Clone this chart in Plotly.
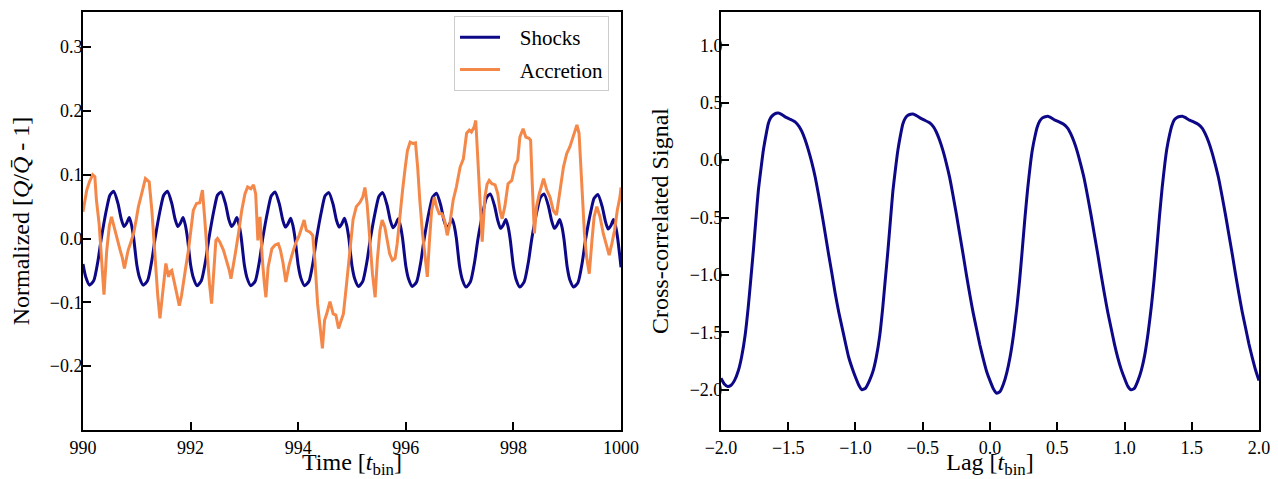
import plotly.graph_objects as go

# ---------------- data ----------------
shock_t = [
    990.00, 990.05, 990.12, 990.20, 990.28, 990.34, 990.44, 990.50, 990.57, 990.65, 990.71, 990.76, 990.81, 990.86, 990.90, 990.94,
    991.00, 991.05, 991.12, 991.20, 991.28, 991.34, 991.44, 991.50, 991.57, 991.65, 991.71, 991.76, 991.81, 991.86, 991.90, 991.94,
    992.00, 992.05, 992.12, 992.20, 992.28, 992.34, 992.44, 992.50, 992.57, 992.65, 992.71, 992.76, 992.81, 992.86, 992.90, 992.94,
    993.00, 993.05, 993.12, 993.20, 993.28, 993.34, 993.44, 993.50, 993.57, 993.65, 993.71, 993.76, 993.81, 993.86, 993.90, 993.94,
    994.00, 994.05, 994.12, 994.20, 994.28, 994.34, 994.44, 994.50, 994.57, 994.65, 994.71, 994.76, 994.81, 994.86, 994.90, 994.94,
    995.00, 995.05, 995.12, 995.20, 995.28, 995.34, 995.44, 995.50, 995.57, 995.65, 995.71, 995.76, 995.81, 995.86, 995.90, 995.94,
    996.00, 996.05, 996.12, 996.20, 996.28, 996.34, 996.44, 996.50, 996.57, 996.65, 996.71, 996.76, 996.81, 996.86, 996.90, 996.94,
    997.00, 997.05, 997.12, 997.20, 997.28, 997.34, 997.44, 997.50, 997.57, 997.65, 997.71, 997.76, 997.81, 997.86, 997.90, 997.94,
    998.00, 998.05, 998.12, 998.20, 998.28, 998.34, 998.44, 998.50, 998.57, 998.65, 998.71, 998.76, 998.81, 998.86, 998.90, 998.94,
    999.00, 999.05, 999.12, 999.20, 999.28, 999.34, 999.44, 999.50, 999.57, 999.65, 999.71, 999.76, 999.81, 999.86, 999.90, 999.94,
    1000.00,
]
shock_v = [
    -0.040, -0.060, -0.073, -0.066, -0.034, 0.000, 0.047, 0.068, 0.074, 0.055, 0.031, 0.019, 0.024, 0.033, 0.022, 0.002,
    -0.041, -0.061, -0.073, -0.066, -0.034, 0.000, 0.047, 0.068, 0.074, 0.055, 0.031, 0.019, 0.024, 0.033, 0.022, 0.002,
    -0.041, -0.061, -0.074, -0.066, -0.034, 0.000, 0.047, 0.068, 0.073, 0.054, 0.030, 0.019, 0.024, 0.033, 0.022, 0.002,
    -0.042, -0.062, -0.074, -0.067, -0.035, 0.000, 0.046, 0.067, 0.073, 0.054, 0.030, 0.018, 0.023, 0.032, 0.021, 0.001,
    -0.042, -0.062, -0.074, -0.067, -0.035, 0.000, 0.046, 0.067, 0.072, 0.053, 0.029, 0.018, 0.023, 0.032, 0.021, 0.001,
    -0.043, -0.063, -0.075, -0.067, -0.035, -0.001, 0.045, 0.066, 0.072, 0.053, 0.029, 0.017, 0.022, 0.031, 0.020, 0.000,
    -0.043, -0.063, -0.075, -0.068, -0.036, -0.001, 0.045, 0.065, 0.071, 0.052, 0.028, 0.017, 0.022, 0.031, 0.020, 0.000,
    -0.044, -0.064, -0.076, -0.068, -0.036, -0.001, 0.044, 0.064, 0.070, 0.051, 0.028, 0.016, 0.021, 0.030, 0.019, -0.001,
    -0.044, -0.064, -0.076, -0.068, -0.036, -0.001, 0.044, 0.064, 0.070, 0.051, 0.028, 0.016, 0.021, 0.030, 0.019, -0.001,
    -0.045, -0.065, -0.076, -0.069, -0.037, -0.002, 0.043, 0.063, 0.069, 0.050, 0.027, 0.015, 0.020, 0.030, 0.019, -0.001,
    -0.045,
]

accr_t = [
    990.00, 990.07, 990.12, 990.18, 990.22, 990.25, 990.30, 990.34, 990.39, 990.44, 990.49, 990.53, 990.59, 990.64, 990.69, 990.73,
    990.77, 990.81, 990.84, 990.90, 990.94, 990.99, 991.03, 991.09, 991.13, 991.16, 991.20, 991.23, 991.28, 991.34, 991.39, 991.43,
    991.46, 991.49, 991.54, 991.59, 991.62, 991.65, 991.68, 991.71, 991.75, 991.79, 991.83, 991.86, 991.91, 991.96, 992.01, 992.05,
    992.11, 992.17, 992.20, 992.22, 992.26, 992.30, 992.35, 992.39, 992.43, 992.47, 992.50, 992.54, 992.61, 992.67, 992.72, 992.75,
    992.79, 992.82, 992.89, 992.95, 993.01, 993.06, 993.12, 993.17, 993.21, 993.25, 993.29, 993.33, 993.37, 993.40, 993.44, 993.51,
    993.57, 993.63, 993.67, 993.72, 993.77, 993.83, 993.89, 993.95, 994.01, 994.06, 994.11, 994.15, 994.22, 994.27, 994.31, 994.36,
    994.41, 994.45, 994.49, 994.53, 994.59, 994.65, 994.70, 994.75, 994.80, 994.84, 994.90, 994.96, 995.00, 995.02, 995.08, 995.15,
    995.20, 995.24, 995.28, 995.33, 995.38, 995.43, 995.47, 995.52, 995.56, 995.61, 995.66, 995.70, 995.75, 995.80, 995.84, 995.89,
    995.94, 995.99, 996.03, 996.08, 996.13, 996.18, 996.22, 996.26, 996.31, 996.36, 996.40, 996.44, 996.48, 996.53, 996.57, 996.62,
    996.67, 996.72, 996.77, 996.82, 996.88, 996.94, 997.01, 997.07, 997.13, 997.18, 997.22, 997.27, 997.30, 997.33, 997.38, 997.42,
    997.47, 997.51, 997.55, 997.60, 997.66, 997.71, 997.75, 997.79, 997.84, 997.90, 997.97, 998.03, 998.08, 998.12, 998.18, 998.23,
    998.29, 998.32, 998.35, 998.39, 998.43, 998.48, 998.56, 998.62, 998.68, 998.74, 998.80, 998.87, 998.93, 998.99, 999.05, 999.10,
    999.15, 999.18, 999.22, 999.27, 999.32, 999.36, 999.41, 999.46, 999.50, 999.55, 999.61, 999.67, 999.74, 999.78, 999.83, 999.88,
    999.93, 999.98, 1000.00,
]
accr_v = [
    0.042, 0.076, 0.089, 0.100, 0.097, 0.060, 0.023, -0.034, -0.088, -0.020, 0.020, 0.034, 0.013, 0.000, -0.018, -0.030,
    -0.047, -0.030, -0.018, -0.003, 0.008, 0.030, 0.050, 0.070, 0.085, 0.094, 0.091, 0.089, 0.044, -0.034, -0.090, -0.125,
    -0.100, -0.081, -0.039, -0.060, -0.052, -0.050, -0.062, -0.070, -0.090, -0.105, -0.090, -0.070, -0.045, -0.018, 0.015, 0.044,
    0.055, 0.056, 0.068, 0.076, 0.034, -0.020, -0.070, -0.102, -0.050, -0.003, 0.000, -0.005, -0.018, -0.034, -0.050, -0.063,
    -0.045, -0.029, 0.008, 0.044, 0.070, 0.081, 0.078, 0.084, 0.070, -0.003, 0.034, -0.029, -0.070, -0.092, -0.045, -0.016,
    -0.010, -0.008, -0.018, -0.039, -0.068, -0.042, -0.024, -0.008, 0.003, 0.018, 0.029, 0.013, 0.010, 0.005, -0.034, -0.102,
    -0.139, -0.172, -0.128, -0.118, -0.099, -0.118, -0.120, -0.141, -0.128, -0.118, -0.070, -0.020, 0.008, 0.030, 0.050, 0.057,
    0.065, 0.080, 0.055, -0.003, -0.055, -0.092, -0.034, 0.013, 0.029, 0.018, -0.003, -0.024, -0.034, -0.031, -0.008, 0.039,
    0.076, 0.112, 0.138, 0.151, 0.149, 0.150, 0.112, 0.060, 0.008, -0.029, -0.060, -0.003, 0.044, 0.065, 0.050, 0.039,
    0.039, 0.029, 0.005, 0.024, 0.060, 0.081, 0.112, 0.125, 0.165, 0.170, 0.167, 0.175, 0.185, 0.138, 0.060, -0.005,
    0.065, 0.085, 0.091, 0.086, 0.084, 0.070, 0.044, 0.031, 0.050, 0.086, 0.091, 0.115, 0.123, 0.159, 0.172, 0.159,
    0.157, 0.154, 0.086, 0.008, 0.050, 0.070, 0.094, 0.076, 0.065, 0.044, 0.037, 0.081, 0.112, 0.133, 0.144, 0.157,
    0.170, 0.178, 0.165, 0.091, 0.008, -0.029, -0.055, -0.003, 0.034, 0.050, 0.034, 0.008, -0.013, -0.026, -0.008, 0.013,
    0.044, 0.065, 0.080,
]

lag = [
    -2.000, -1.975, -1.950, -1.925, -1.900, -1.870, -1.846, -1.820, -1.797, -1.780, -1.759, -1.740, -1.722, -1.700, -1.685, -1.665,
    -1.648, -1.630, -1.610, -1.590, -1.573, -1.550, -1.523, -1.490, -1.449, -1.420, -1.399, -1.375, -1.350, -1.325, -1.300, -1.275,
    -1.250, -1.225, -1.201, -1.175, -1.151, -1.125, -1.101, -1.075, -1.052, -1.025, -1.002, -0.975, -0.952, -0.925, -0.896, -0.870,
    -0.846, -0.820, -0.797, -0.780, -0.759, -0.740, -0.722, -0.700, -0.685, -0.665, -0.648, -0.630, -0.610, -0.590, -0.573, -0.550,
    -0.523, -0.490, -0.449, -0.420, -0.399, -0.375, -0.350, -0.325, -0.300, -0.275, -0.250, -0.225, -0.200, -0.175, -0.150, -0.125,
    -0.100, -0.075, -0.050, -0.025, 0.000, 0.025, 0.050, 0.075, 0.100, 0.125, 0.150, 0.175, 0.200, 0.220, 0.240, 0.260,
    0.280, 0.300, 0.315, 0.335, 0.352, 0.370, 0.390, 0.410, 0.430, 0.450, 0.477, 0.510, 0.550, 0.580, 0.600, 0.625,
    0.650, 0.675, 0.700, 0.725, 0.750, 0.775, 0.800, 0.825, 0.850, 0.875, 0.900, 0.925, 0.950, 0.975, 1.000, 1.025,
    1.050, 1.075, 1.100, 1.125, 1.150, 1.175, 1.200, 1.220, 1.240, 1.260, 1.280, 1.300, 1.315, 1.335, 1.352, 1.370,
    1.390, 1.410, 1.430, 1.450, 1.477, 1.510, 1.550, 1.580, 1.600, 1.625, 1.650, 1.675, 1.700, 1.725, 1.750, 1.775,
    1.800, 1.825, 1.850, 1.875, 1.900, 1.925, 1.950, 1.975, 2.000,
]
xcorr = [
    -1.900, -1.950, -1.972, -1.960, -1.920, -1.830, -1.710, -1.520, -1.275, -1.060, -0.783, -0.510, -0.261, -0.050, 0.087, 0.220,
    0.319, 0.370, 0.395, 0.408, 0.411, 0.398, 0.377, 0.358, 0.333, 0.295, 0.250, 0.180, 0.087, -0.020, -0.145, -0.300,
    -0.464, -0.640, -0.812, -0.990, -1.160, -1.320, -1.450, -1.590, -1.710, -1.810, -1.884, -1.960, -2.000, -1.985, -1.920, -1.840,
    -1.720, -1.530, -1.280, -1.060, -0.790, -0.520, -0.270, -0.050, 0.085, 0.220, 0.315, 0.365, 0.390, 0.400, 0.402, 0.390,
    0.370, 0.350, 0.325, 0.290, 0.245, 0.175, 0.085, -0.025, -0.150, -0.305, -0.470, -0.645, -0.820, -1.000, -1.170, -1.330,
    -1.470, -1.610, -1.730, -1.840, -1.920, -1.990, -2.030, -2.015, -1.950, -1.850, -1.710, -1.520, -1.280, -1.050, -0.780, -0.500,
    -0.250, -0.040, 0.090, 0.210, 0.290, 0.340, 0.368, 0.378, 0.382, 0.372, 0.352, 0.335, 0.310, 0.275, 0.230, 0.160,
    0.070, -0.040, -0.160, -0.310, -0.470, -0.640, -0.810, -0.990, -1.160, -1.320, -1.460, -1.600, -1.720, -1.820, -1.900, -1.970,
    -2.000, -1.985, -1.920, -1.830, -1.700, -1.510, -1.270, -1.040, -0.770, -0.490, -0.240, -0.030, 0.100, 0.220, 0.300, 0.350,
    0.372, 0.380, 0.383, 0.372, 0.352, 0.335, 0.310, 0.275, 0.230, 0.160, 0.070, -0.040, -0.160, -0.310, -0.470, -0.640,
    -0.810, -0.990, -1.160, -1.320, -1.460, -1.600, -1.720, -1.830, -1.920,
]

left_xticks = [990, 992, 994, 996, 998, 1000]
left_yticks = [-0.2, -0.1, 0.0, 0.1, 0.2, 0.3]
right_xticks = [-2.0, -1.5, -1.0, -0.5, 0.0, 0.5, 1.0, 1.5, 2.0]
right_yticks = [-2.0, -1.5, -1.0, -0.5, 0.0, 0.5, 1.0]

NAVY = "#0d0887"
ORANGE = "#f48849"
FONT = "Liberation Serif"

fig = go.Figure()
fig.add_trace(go.Scatter(x=shock_t, y=shock_v, mode="lines", name="\u2002\u2009Shocks",
                         line=dict(color=NAVY, width=3, shape="spline", smoothing=0.6),
                         xaxis="x", yaxis="y", legendgroup="a"))
fig.add_trace(go.Scatter(x=accr_t, y=accr_v, mode="lines", name="\u2002\u2009Accretion",
                         line=dict(color=ORANGE, width=3),
                         xaxis="x", yaxis="y", legendgroup="b"))
fig.add_trace(go.Scatter(x=lag, y=xcorr, mode="lines", name="xcorr", showlegend=False,
                         line=dict(color=NAVY, width=3, shape="spline", smoothing=0.5),
                         xaxis="x2", yaxis="y2"))

axis_common = dict(
    showline=True, linecolor="black", linewidth=2, mirror=True,
    ticks="inside", ticklen=8, tickwidth=1.5, tickcolor="black",
    showgrid=False, zeroline=False, automargin=False,
    tickfont=dict(family=FONT, size=18, color="black"),
)
TITLE_FONT = dict(family=FONT, size=24, color="black")

# the page body adds an 8px offset, so the figure is 8px smaller than the window
fig.update_layout(
    template="none",
    width=1270, height=471,
    margin=dict(l=75, r=19, t=4, b=49),
    paper_bgcolor="white", plot_bgcolor="white",
    font=dict(family=FONT, color="black"),
    xaxis=dict(domain=[0.0, 0.4575], range=[990, 1000], tickvals=left_xticks,
               title=dict(text="Time [<i>t</i><sub>bin</sub>]", font=TITLE_FONT, standoff=9),
               anchor="y", **axis_common),
    yaxis=dict(domain=[0.0, 1.0], range=[-0.30, 0.355], tickvals=left_yticks, tickformat=".1f",
               ticklabelstandoff=-5,
               title=dict(text="Normalized [<i>Q</i>/<i>Q\u0304</i> - 1]", font=TITLE_FONT, standoff=15),
               anchor="x", **axis_common),
    xaxis2=dict(domain=[0.5425, 1.0], range=[-2, 2], tickvals=right_xticks, tickformat=".1f",
                title=dict(text="Lag [<i>t</i><sub>bin</sub>]", font=TITLE_FONT, standoff=9),
                anchor="y2", **axis_common),
    yaxis2=dict(domain=[0.0, 1.0], range=[-2.35, 1.29], tickvals=right_yticks, tickformat=".1f",
                ticklabelstandoff=-7,
                title=dict(text="Cross-correlated Signal", font=TITLE_FONT, standoff=14),
                anchor="x2", **axis_common),
    legend=dict(x=0.4473, y=0.9904, xanchor="right", yanchor="top",
                bgcolor="white", bordercolor="#cccccc", borderwidth=1,
                font=dict(family=FONT, size=21, color="black"),
                tracegroupgap=2, itemwidth=40),
    showlegend=True,
)

fig.write_html("out.html")
